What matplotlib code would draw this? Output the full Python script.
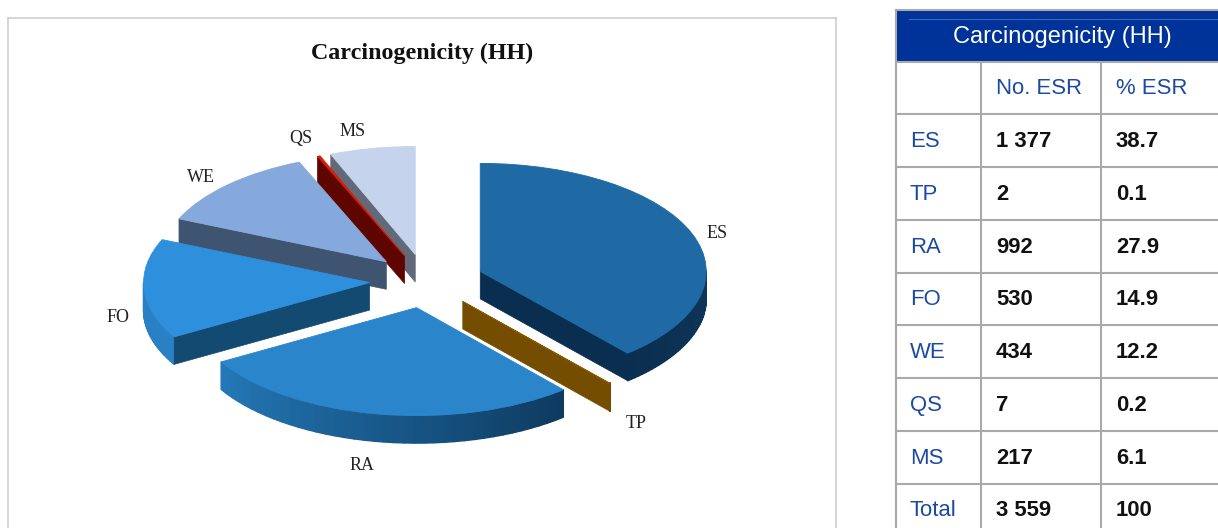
import numpy as np
import matplotlib
matplotlib.use("Agg")
import matplotlib.pyplot as plt
from matplotlib.collections import PolyCollection
from matplotlib.colors import to_rgb

# ---- data ----
categories = ["ES", "TP", "RA", "FO", "WE", "QS", "MS"]
counts = [1377, 2, 992, 530, 434, 7, 217]
percent = ["38.7", "0.1", "27.9", "14.9", "12.2", "0.2", "6.1"]
count_labels = ["1 377", "2", "992", "530", "434", "7", "217"]
total_label = ["Total", "3 559", "100"]
title_text = "Carcinogenicity (HH)"
col_heads = ["No. ESR", "% ESR"]

# ---- style ----
W, H = 1218, 528
top_colors = ["#1f6aa5", "#8a5c00", "#2b85cb", "#2e8fdc", "#85a9dc", "#d81e05", "#c5d3ec"]
radial_colors = ["#0a2e50", "#744d00", "#0e3a5f", "#134a72", "#3f5470", "#5e0500", "#626a7a"]
arc_colors = [("#0e3658", "#0a2e50"), ("#744d00", "#744d00"), ("#0e3a5f", "#2479b8"),
              ("#2a80c4", "#2a80c4"), ("#3f5470", "#3f5470"), ("#5e0500", "#5e0500"), ("#626a7a", "#626a7a")]
explode = [0.256, 0.25, 0.25, 0.25, 0.25, 0.25, 0.25]
PX_X, PX_Y = 226.0, 108.0
CX, CY = 426.0, 281.0
DEPTH = 27.5 / PX_Y
label_xy = [(717, 233), (636, 424), (362, 465), (118, 318), (201, 178), (301, 138), (353, 131)]

FS_HEAD, FS = 17, 15.9
sans = "Liberation Sans"
serif = "Liberation Serif"
BLUE = "#1c4aa3"
GRID = "#a9a9a9"

fig = plt.figure(figsize=(W / 100, H / 100), dpi=100, facecolor="white")

# ---- pie panel ----
L, R, T = 8, 836, 18
ax = fig.add_axes([L / W, 0, (R - L) / W, (H - T) / H])
wedges, _ = ax.pie(counts, explode=explode, startangle=90, counterclock=False,
                   colors=top_colors, radius=1.0)
ax.set_aspect("auto")
ax.set_xlim((L - CX) / PX_X, (R - CX) / PX_X)
ax.set_ylim((CY - H) / PX_Y, (CY - T) / PX_Y)
ax.set_frame_on(True)
ax.set_xticks([]); ax.set_yticks([])
for s, sp in ax.spines.items():
    sp.set_color("#cbcbcb"); sp.set_linewidth(1.1)
ax.spines["bottom"].set_visible(False)

for i, w in enumerate(wedges):
    w.set_edgecolor(top_colors[i])
    w.set_linewidth(0.6)
    cx, cy = w.center
    z = 5 - cy * 2
    w.set_zorder(z + 0.5)
    # theta1 < theta2 are math angles; on a clockwise pie the slice starts at theta2
    for th, is_start in ((w.theta2, True), (w.theta1, False)):
        clock = np.radians(90 - th)
        s = np.sin(clock)
        if (is_start and s < -1e-6) or (not is_start and s > 1e-6):
            px, py = cx + np.cos(np.radians(th)), cy + np.sin(np.radians(th))
            ax.fill([cx, px, px, cx], [cy, py, py - DEPTH, cy - DEPTH],
                    color=radial_colors[i], lw=0.5, zorder=z + 0.1)
    # outer wall: only the part in the front half of the ellipse
    for shift in (-360, 0, 360):
        a = max(w.theta1 + shift, -180)
        b = min(w.theta2 + shift, 0)
        if b > a:
            grid = np.linspace(a, b, 40)
            c0, c1 = map(np.array, map(to_rgb, arc_colors[i]))
            polys, cols = [], []
            for k in range(len(grid) - 1):
                g0, g1 = np.radians(grid[k]), np.radians(grid[k + 1])
                x0, y0 = cx + np.cos(g0), cy + np.sin(g0)
                x1, y1 = cx + np.cos(g1), cy + np.sin(g1)
                polys.append([(x0, y0), (x1, y1), (x1, y1 - DEPTH), (x0, y0 - DEPTH)])
                f = 1 - (k + 0.5) / (len(grid) - 1)
                cols.append(tuple(c0 + (c1 - c0) * f))
            ax.add_collection(PolyCollection(polys, facecolors=cols, edgecolors=cols,
                                             linewidths=1.0, zorder=z))

# ---- overlay in pixel coordinates: labels and table ----
ov = fig.add_axes([0, 0, 1, 1], facecolor="none")
ov.set_xlim(0, W); ov.set_ylim(H, 0); ov.axis("off")

ov.text(422, 53, title_text, family=serif, weight="bold", fontsize=17.3,
        ha="center", va="center", color="#111111")
for name, (x, y) in zip(categories, label_xy):
    ov.text(x, y, name, family=serif, fontsize=13, ha="center", va="center", color="#222222")

# table
x_left, x_c1, x_c2 = 896, 981, 1101
y_top, y_head = 9.5, 61.5
row_h = 52.75
n_rows = len(categories) + 2
LW = 1.5
ov.fill_between([x_left, W], y_top, y_head, color="#003399", lw=0, zorder=1)
ov.plot([909, W], [19, 19], color="#3f66b3", lw=0.8, zorder=2)
ov.plot([x_left, x_left], [y_top, H], color=GRID, lw=LW, zorder=3)
ov.plot([x_left, W], [y_top, y_top], color=GRID, lw=LW, zorder=3)
for x in (x_c1, x_c2):
    ov.plot([x, x], [y_head, H], color=GRID, lw=LW, zorder=3)
for r in range(n_rows):
    y = y_head + r * row_h
    ov.plot([x_left, W], [y, y], color=GRID, lw=LW, zorder=3)

ov.text(1062, 37, title_text, family=sans, fontsize=FS_HEAD, color="white", ha="center", va="center", zorder=4)
yc = lambda r: y_head + (r + 0.5) * row_h + 1
ov.text(996, yc(0), col_heads[0], family=sans, fontsize=FS, color=BLUE, ha="left", va="center", zorder=4)
ov.text(1116, yc(0), col_heads[1], family=sans, fontsize=FS, color=BLUE, ha="left", va="center", zorder=4)
rows = list(zip(categories, count_labels, percent)) + [tuple(total_label)]
for r, (a, b, c) in enumerate(rows, start=1):
    ov.text(910, yc(r), a, family=sans, fontsize=FS, color=BLUE, ha="left", va="center", zorder=4)
    ov.text(996, yc(r), b, family=sans, fontsize=FS, weight="bold", color="#111111", ha="left", va="center", zorder=4)
    ov.text(1116, yc(r), c, family=sans, fontsize=FS, weight="bold", color="#111111", ha="left", va="center", zorder=4)

fig.savefig("out.png", dpi=100)
